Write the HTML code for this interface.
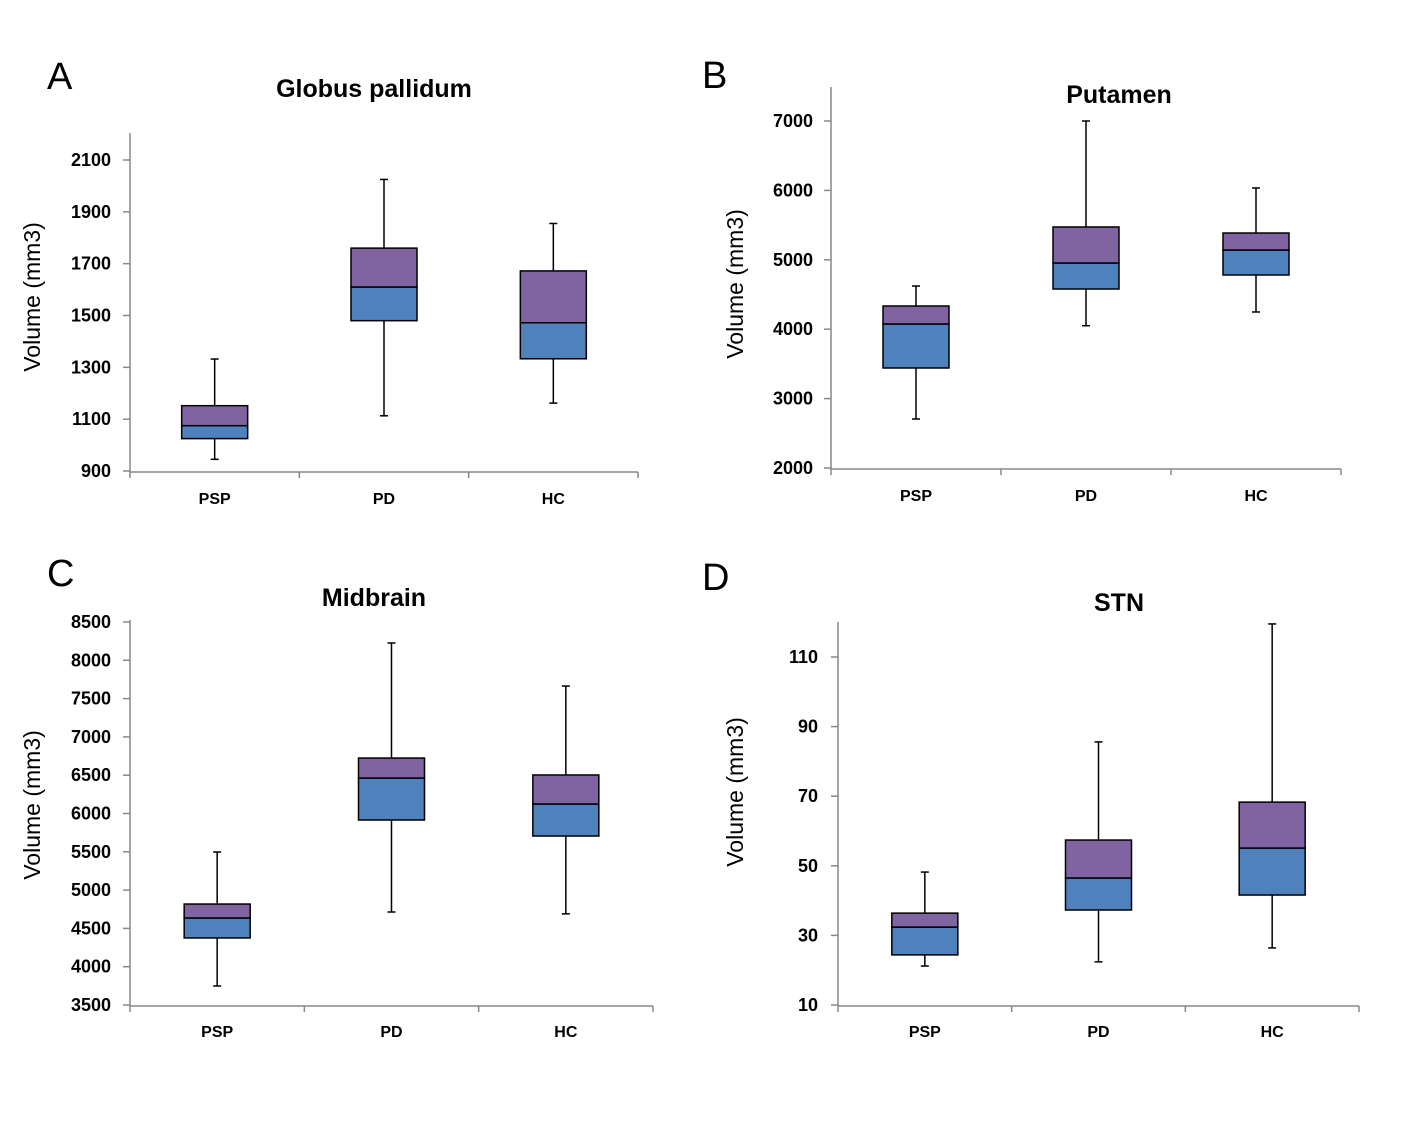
<!DOCTYPE html>
<html><head><meta charset="utf-8"><style>
body{margin:0;background:#fff;}
svg text{font-family:"Liberation Sans",Arial,sans-serif;}
</style></head><body>
<svg id="c" width="1422" height="1129" xmlns="http://www.w3.org/2000/svg"></svg>
<script>
const categories=["PSP","PD","HC"];
const gpMin=[945,1113,1162],gpQ1=[1025,1480,1333],gpMed=[1075,1610,1472],gpQ3=[1152,1760,1672],gpMax=[1332,2025,1855];
const gpTicks=[900,1100,1300,1500,1700,1900,2100];
const ptMin=[2706,4050,4248],ptQ1=[3441,4579,4781],ptMed=[4075,4954,5141],ptQ3=[4334,5473,5386],ptMax=[4622,7000,6035];
const ptTicks=[2000,3000,4000,5000,6000,7000];
const mbMin=[3748,4714,4690],mbQ1=[4375,5915,5706],mbMed=[4636,6463,6124],mbQ3=[4818,6724,6503],mbMax=[5497,8226,7664];
const mbTicks=[3500,4000,4500,5000,5500,6000,6500,7000,7500,8000,8500];
const stMin=[21.2,22.4,26.4],stQ1=[24.4,37.3,41.6],stMed=[32.4,46.5,55.1],stQ3=[36.4,57.4,68.3],stMax=[48.2,85.6,119.5];
const stTicks=[10,30,50,70,90,110];
const NS="http://www.w3.org/2000/svg";
const svg=document.getElementById('c');
function mk(t,a,p){const e=document.createElementNS(NS,t);for(const k in a)e.setAttribute(k,a[k]);(p||svg).appendChild(e);return e;}
function panel(o){
  const g=mk('g',{});
  
  
  const y=v=>o.yb-(v-o.vmin)/(o.vmax-o.vmin)*(o.yb-o.yt);
  const cw=(o.x1-o.x0)/categories.length;
  const cx=i=>o.x0+cw*(i+0.5);
  let t=mk('text',{x:o.lx,y:o.ly,'font-size':38},g);t.textContent=o.letter;
  
  t=mk('text',{x:o.tx,y:o.ty,'font-size':25,'font-weight':'bold','text-anchor':'middle'},g);t.textContent=o.title;
  
  t=mk('text',{x:0,y:0,'font-size':23,'text-anchor':'middle',transform:`translate(${o.yx},${o.yy}) rotate(-90)`},g);t.textContent="Volume (mm3)";
  
  const ax=mk('line',{x1:o.x0,y1:o.axTop,x2:o.x0,y2:o.yb+1,stroke:'#888','stroke-width':1.5},g);
  
  const bx=mk('line',{x1:o.x0,y1:o.yb+1,x2:o.x1,y2:o.yb+1,stroke:'#888','stroke-width':1.5},g);
  
  o.ticks.forEach(v=>{
    mk('line',{x1:o.x0-7,x2:o.x0,y1:y(v),y2:y(v),stroke:'#888','stroke-width':1.5},g);
    const tl=mk('text',{x:o.tlx,y:y(v)+6,'font-size':18,'font-weight':'bold','text-anchor':'end'},g);tl.textContent=v;
    
  });
  for(let i=0;i<=categories.length;i++)mk('line',{x1:o.x0+cw*i,x2:o.x0+cw*i,y1:o.yb+1,y2:o.yb+7,stroke:'#888','stroke-width':1.5},g);
  categories.forEach((c,i)=>{
    const tl=mk('text',{x:cx(i),y:o.cly,'font-size':16,'font-weight':'bold','text-anchor':'middle'},g);tl.textContent=c;
    
    const x=cx(i),w=66;
    const bg=mk('g',{},g);
    
    mk('line',{x1:x,x2:x,y1:y(o.mx[i]),y2:y(o.q3[i]),stroke:'#000','stroke-width':1.5},bg);
    mk('line',{x1:x,x2:x,y1:y(o.q1[i]),y2:y(o.mn[i]),stroke:'#000','stroke-width':1.5},bg);
    mk('line',{x1:x-4,x2:x+4,y1:y(o.mx[i]),y2:y(o.mx[i]),stroke:'#000','stroke-width':1.5},bg);
    mk('line',{x1:x-4,x2:x+4,y1:y(o.mn[i]),y2:y(o.mn[i]),stroke:'#000','stroke-width':1.5},bg);
    mk('rect',{x:x-w/2,y:y(o.md[i]),width:w,height:y(o.q1[i])-y(o.md[i]),fill:'#4F81BD',stroke:'#000','stroke-width':1.5},bg);
    mk('rect',{x:x-w/2,y:y(o.q3[i]),width:w,height:y(o.md[i])-y(o.q3[i]),fill:'#8064A2',stroke:'#000','stroke-width':1.5},bg);
  });
}
panel({name:'panel-a-globus-pallidum',letter:'A',lx:47,ly:89,title:'Globus pallidum',tx:374,ty:97,yx:40,yy:297,
 x0:130,x1:638,yb:471,yt:160,vmin:900,vmax:2100,axTop:133,ticks:gpTicks,tlx:111,cly:504,
 mn:gpMin,q1:gpQ1,md:gpMed,q3:gpQ3,mx:gpMax});
panel({name:'panel-b-putamen',letter:'B',lx:702,ly:88,title:'Putamen',tx:1119,ty:103,yx:743,yy:284,
 x0:831,x1:1341,yb:468,yt:121,vmin:2000,vmax:7000,axTop:87,ticks:ptTicks,tlx:813,cly:501,
 mn:ptMin,q1:ptQ1,md:ptMed,q3:ptQ3,mx:ptMax});
panel({name:'panel-c-midbrain',letter:'C',lx:47,ly:586,title:'Midbrain',tx:374,ty:606,yx:40,yy:805,
 x0:130,x1:653,yb:1005,yt:622,vmin:3500,vmax:8500,axTop:620,ticks:mbTicks,tlx:111,cly:1037,
 mn:mbMin,q1:mbQ1,md:mbMed,q3:mbQ3,mx:mbMax});
panel({name:'panel-d-stn',letter:'D',lx:702,ly:590,title:'STN',tx:1119,ty:611,yx:743,yy:792,
 x0:838,x1:1359,yb:1005,yt:657,vmin:10,vmax:110,axTop:622,ticks:stTicks,tlx:818,cly:1037,
 mn:stMin,q1:stQ1,md:stMed,q3:stQ3,mx:stMax});
</script>
</body></html>
